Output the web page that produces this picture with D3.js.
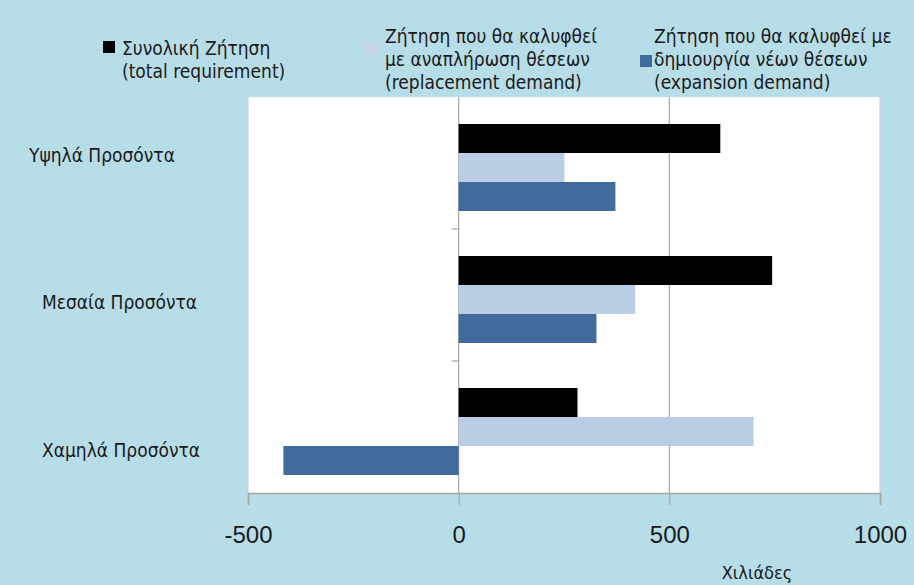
<!DOCTYPE html>
<html>
<head>
<meta charset="utf-8">
<script src="https://cdn.jsdelivr.net/npm/d3@7/dist/d3.min.js"></script>
<style>
  body { margin: 0; background: #b7dde8; }
  svg { display: block; font-family: "DejaVu Sans Condensed", "DejaVu Sans", sans-serif; font-stretch: condensed; }
</style>
</head>
<body>
<svg width="914" height="585"></svg>
<script>
// data (thousands)
const categories = ["Υψηλά Προσόντα", "Μεσαία Προσόντα", "Χαμηλά Προσόντα"];
const seriesKeys = ["total", "replacement", "expansion"];
const totalValues = [621, 744, 282];
const replacementValues = [251, 419, 700];
const expansionValues = [372, 327, -416];
const xTicks = [-500, 0, 500, 1000];
const legendLines = [
    ["Συνολική Ζήτηση", "(total requirement)"],
    ["Ζήτηση που θα καλυφθεί", "με αναπλήρωση θέσεων", "(replacement demand)"],
    ["Ζήτηση που θα καλυφθεί με", "δημιουργία νέων θέσεων", "(expansion demand)"]
];
const colors = { total: "#000000", replacement: "#b9cde5", expansion: "#426b9d" };

const svg = d3.select("svg");

const xScale = d3.scaleLinear()
    .domain([-500, 1000])
    .range([248, 880]);

const yScale = d3.scaleBand()
    .domain(categories)
    .range([97, 493]);

// bars sit a little below the middle of each band
const subScale = d3.scaleBand()
    .domain(seriesKeys)
    .range([27, yScale.bandwidth() - 18]);

const rows = categories.map((c, i) => ({
    cat: c,
    total: totalValues[i],
    replacement: replacementValues[i],
    expansion: expansionValues[i]
}));

// plot area
svg.append("rect")
    .attr("x", xScale(-500))
    .attr("y", 97)
    .attr("width", xScale(1000) - xScale(-500))
    .attr("height", 493 - 97)
    .attr("fill", "#ffffff");

// vertical gridlines
svg.append("g")
    .selectAll("line")
    .data(xTicks)
    .enter().append("line")
    .attr("x1", d => xScale(d))
    .attr("x2", d => xScale(d))
    .attr("y1", 97)
    .attr("y2", 493)
    .attr("stroke", d => d === -500 || d === 1000 ? "#d0d0d0" : "#a6a6a6")
    .attr("stroke-width", 1.2);

// bars
const groups = svg.append("g")
    .selectAll("g")
    .data(rows)
    .enter().append("g")
    .attr("transform", d => `translate(0,${yScale(d.cat)})`);

groups.selectAll("rect")
    .data(d => seriesKeys.map(k => ({ key: k, value: d[k] })))
    .enter().append("rect")
    .attr("x", d => xScale(Math.min(0, d.value)))
    .attr("width", d => Math.abs(xScale(d.value) - xScale(0)))
    .attr("y", d => subScale(d.key))
    .attr("height", subScale.bandwidth())
    .attr("fill", d => colors[d.key]);

// category axis at zero, ticks pointing left
svg.append("g")
    .selectAll("line")
    .data(categories.slice(1))
    .enter().append("line")
    .attr("x1", xScale(0) - 7)
    .attr("x2", xScale(0))
    .attr("y1", d => yScale(d))
    .attr("y2", d => yScale(d))
    .attr("stroke", "#a6a6a6")
    .attr("stroke-width", 1.2);

// category labels (excel placed them a bit unevenly)
const labelShift = [{ x: 29, dy: 58 }, { x: 42, dy: 73 }, { x: 42, dy: 89 }];
svg.append("g")
    .selectAll("text")
    .data(categories)
    .enter().append("text")
    .attr("x", (d, i) => labelShift[i].x)
    .attr("y", (d, i) => yScale(d) + labelShift[i].dy)
    .attr("dy", "0.35em")
    .attr("font-size", 19)
    .attr("fill", "#1a1a1a")
    .text(d => d);

// bottom axis
const xAxis = d3.axisBottom(xScale)
    .tickValues(xTicks)
    .tickSize(12)
    .tickPadding(21)
    .tickFormat(d => String(d));

const axisG = svg.append("g")
    .attr("transform", "translate(0,493)")
    .call(xAxis);
axisG.select(".domain").attr("stroke", "#a6a6a6").attr("stroke-width", 1.5);
axisG.selectAll(".tick line").attr("stroke", "#a6a6a6").attr("stroke-width", 1.2);
axisG.selectAll(".tick text")
    .attr("font-size", 24)
    .attr("font-family", null)
    .attr("fill", "#1a1a1a");

svg.append("text")
    .attr("x", 757)
    .attr("y", 573)
    .attr("dy", "0.35em")
    .attr("text-anchor", "middle")
    .attr("font-size", 18)
    .attr("fill", "#1a1a1a")
    .text("Χιλιάδες");

// legend
const legendItems = [
    { key: "total", x: 103, textX: 122, firstY: 48, swatchY: 41 },
    { key: "replacement", x: 365, textX: 385, firstY: 36, swatchY: 43 },
    { key: "expansion", x: 640, textX: 654, firstY: 36, swatchY: 55 }
];
const lineGap = 23;

const legend = svg.append("g")
    .selectAll("g")
    .data(legendItems)
    .enter().append("g");

legend.append("rect")
    .attr("x", d => d.x)
    .attr("y", d => d.swatchY)
    .attr("width", 12)
    .attr("height", 12)
    .attr("fill", d => d.key === "replacement" ? "#c8d5ea" : colors[d.key]);

legend.each(function(d, i) {
    d3.select(this).selectAll("text")
        .data(legendLines[i])
        .enter().append("text")
        .attr("x", d.textX)
        .attr("y", (t, j) => d.firstY + j * lineGap)
        .attr("dy", "0.35em")
        .attr("font-size", 19)
        .attr("fill", "#1a1a1a")
        .text(t => t);
});
</script>
</body>
</html>
